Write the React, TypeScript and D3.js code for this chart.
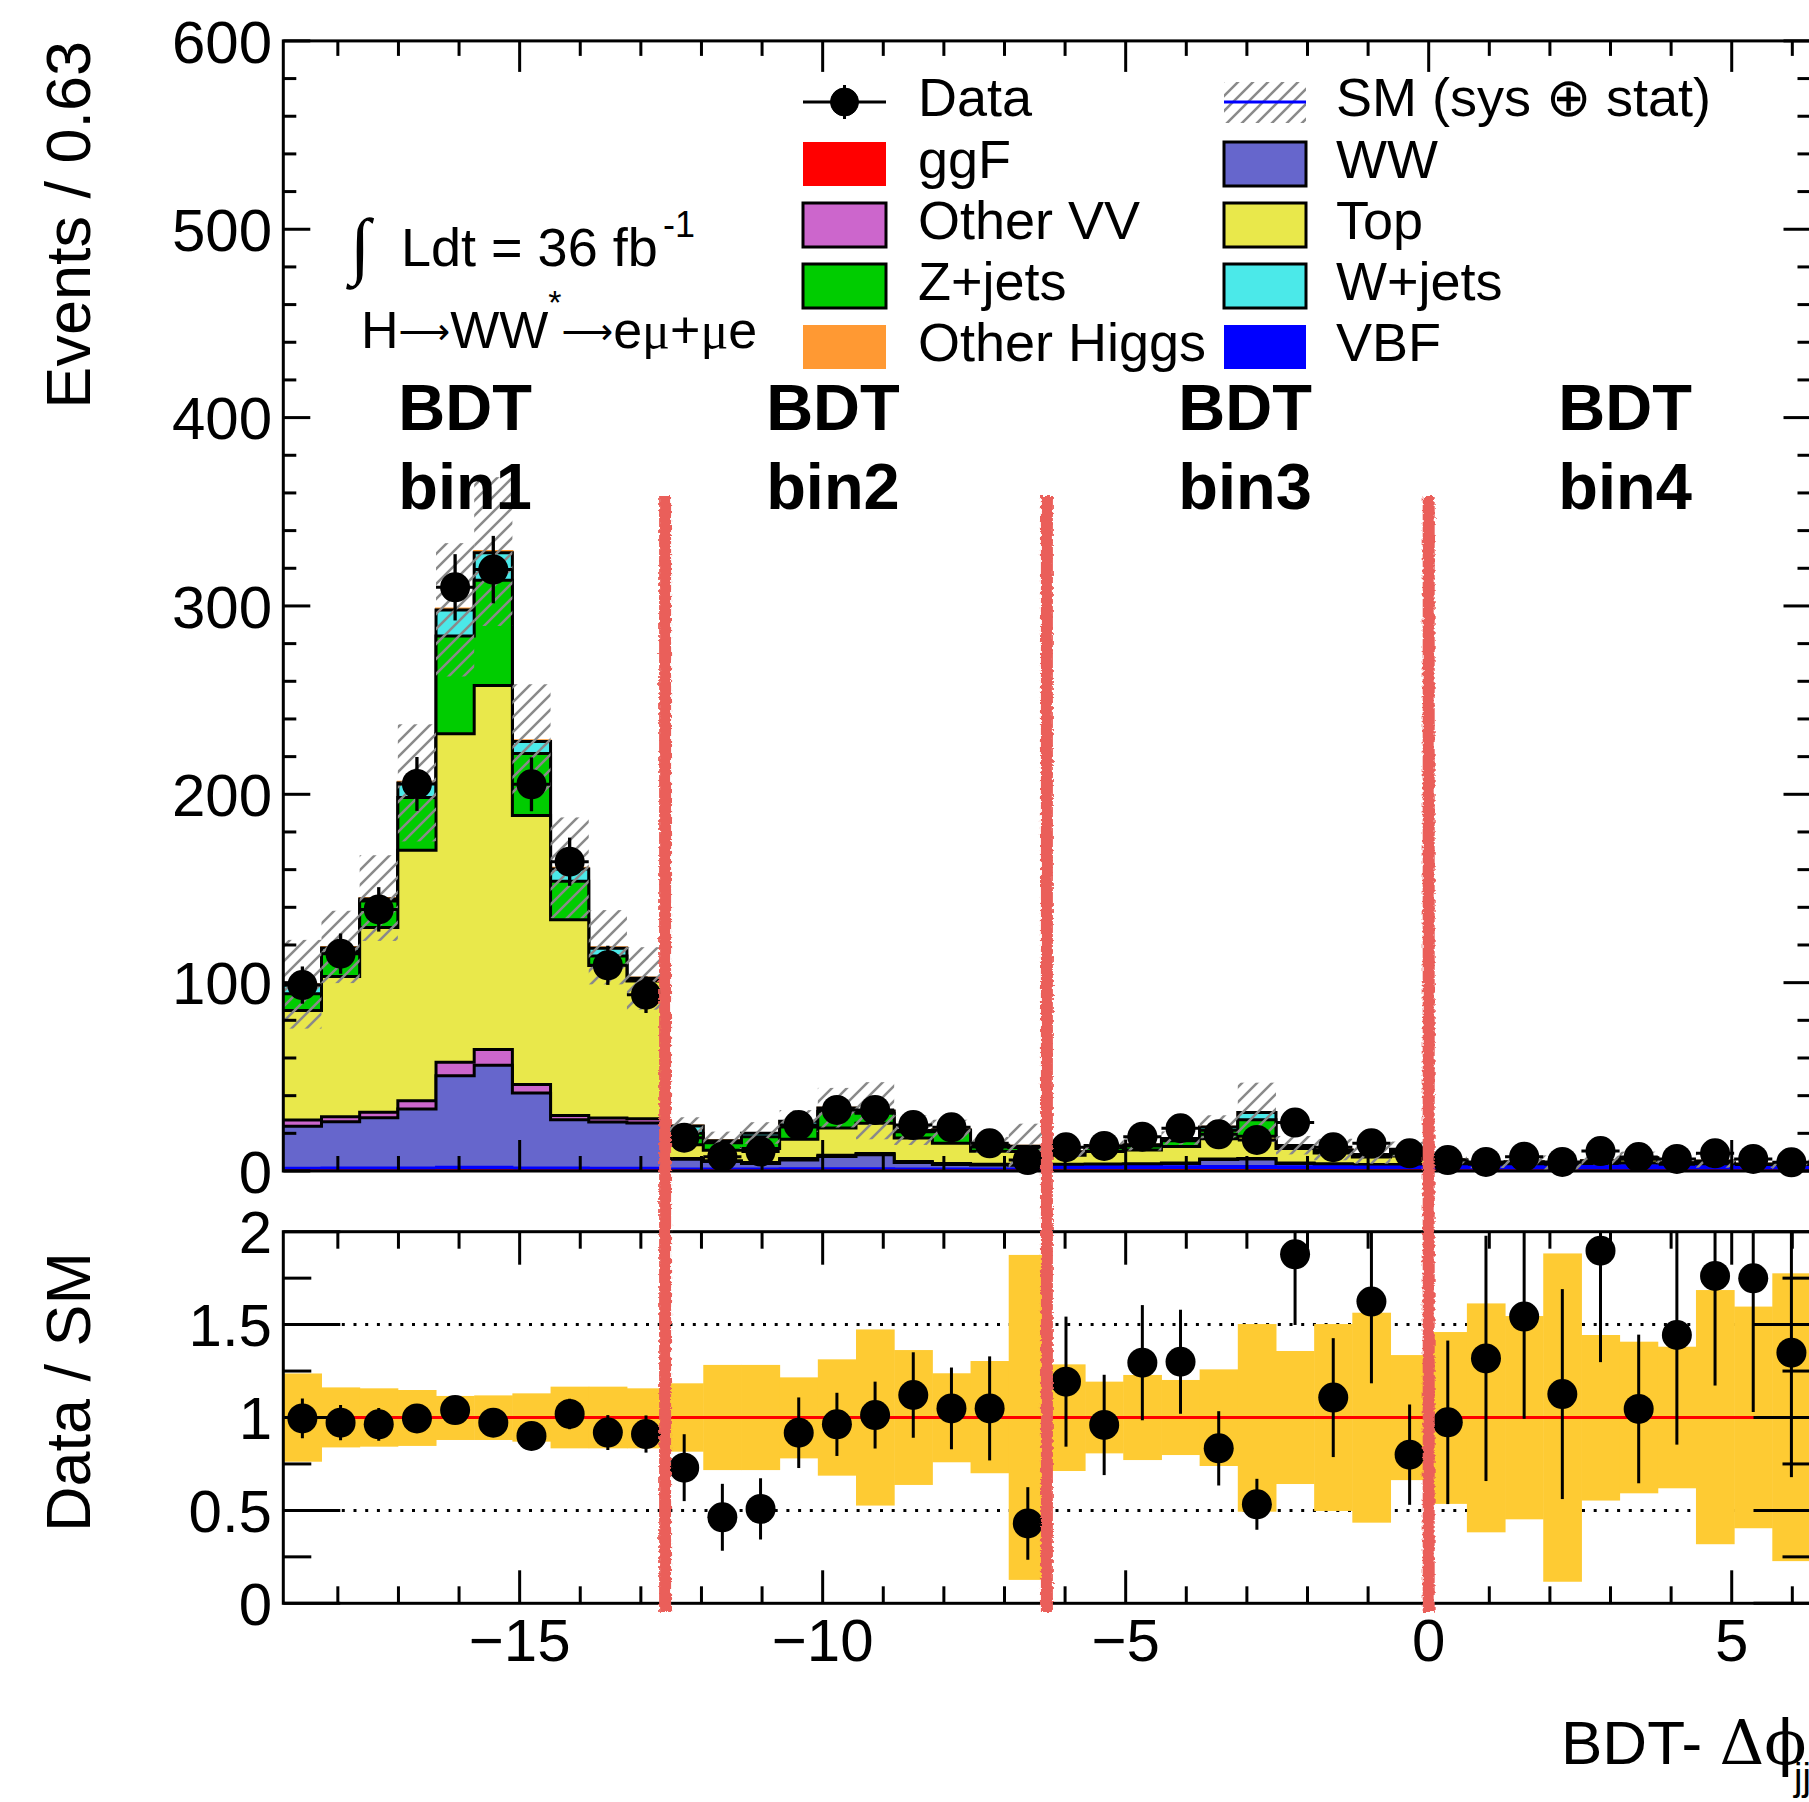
import React from "react";
import * as d3 from "d3";

// ---------------- binning ----------------
const X_MIN = -18.9;
const X_MAX = 6.3;
const BIN_WIDTH = 0.63;

// ---------------- stacked components (events per bin, 40 bins) ----------------
const ggF = [0.3, 0.3, 0.3, 0.3, 0.4, 0.4, 0.3, 0.3, 0.3, 0.3,
  0.3, 0.3, 0.3, 0.3, 0.3, 0.3, 0.3, 0.3, 0.3, 0.3,
  0.4, 0.4, 0.4, 0.5, 0.5, 0.5, 0.4, 0.4, 0.4, 0.4,
  0.3, 0.3, 0.3, 0.3, 0.3, 0.3, 0.3, 0.3, 0.3, 0.3];
const vbf = [1.4, 1.5, 1.5, 1.6, 1.8, 1.8, 1.6, 1.5, 1.4, 1.4,
  1.0, 1.0, 1.0, 1.1, 1.1, 1.1, 1.0, 1.0, 1.0, 1.0,
  1.9, 2.0, 2.1, 2.0, 2.1, 2.2, 2.1, 2.1, 2.0, 2.0,
  2.2, 2.0, 2.2, 2.0, 2.4, 2.6, 2.0, 2.2, 1.8, 1.8];
const ww = [22.1, 24.3, 26.5, 31.0, 48.4, 54.0, 39.5, 25.4, 24.3, 23.8,
  4.9, 3.7, 2.7, 4.5, 6.3, 7.2, 3.2, 2.2, 1.9, 1.7,
  1.0, 1.0, 1.0, 1.5, 3.5, 3.7, 1.5, 1.0, 0.8, 0.8,
  1.0, 0.5, 0.8, 0.5, 0.8, 1.2, 0.7, 0.9, 0.5, 0.5];
const otherVV = [3.3, 2.7, 2.9, 4.4, 7.2, 8.3, 4.5, 2.3, 2.2, 2.3,
  0.5, 0.5, 0.5, 0.7, 0.7, 0.7, 0.5, 0.5, 0.4, 0.4,
  0.3, 0.3, 0.3, 0.3, 0.3, 0.3, 0.3, 0.3, 0.3, 0.3,
  0.1, 0.1, 0.1, 0.1, 0.1, 0.1, 0.1, 0.1, 0.1, 0.1];
const topQuark = [58.1, 74.4, 98.1, 133.0, 174.3, 193.3, 142.8, 103.9, 80.9, 73.1,
  7.3, 5.5, 7.5, 10.3, 14.4, 16.1, 12.5, 10.7, 6.9, 6.9,
  4.7, 6.7, 7.4, 8.7, 10.7, 11.7, 7.7, 5.7, 3.9, 4.4,
  1.5, 0.5, 1.0, 0.7, 1.3, 2.0, 0.8, 1.2, 0.6, 0.6];
const zJets = [8.9, 13.3, 14.1, 28.0, 51.9, 55.8, 33.0, 20.5, 5.1, 0.8,
  6.0, 4.0, 6.2, 6.4, 8.8, 5.2, 3.3, 6.3, 2.3, 2.2,
  1.1, 2.0, 2.1, 3.0, 4.5, 8.8, 1.2, 1.3, 1.0, 2.5,
  0.5, 0.2, 0.3, 0.2, 0.3, 0.6, 0.3, 0.4, 0.2, 0.2];
const wJets = [4.7, 1.9, 1.0, 7.7, 13.8, 14.7, 6.3, 6.5, 4.1, 0.6,
  3.9, 1.1, 1.8, 3.1, 1.8, 1.2, 0.7, 0.8, 0.9, 0.7,
  0.8, 1.2, 0.6, 1.3, 1.7, 3.8, 0.3, 0.4, 0.4, 1.1,
  0.4, 0.2, 0.2, 0.4, 0.3, 0.3, 0.2, 0.2, 0.2, 0.1];
const otherHiggs = [0.4, 0.5, 0.5, 0.6, 0.9, 0.9, 0.7, 0.6, 0.5, 0.4,
  0.2, 0.2, 0.2, 0.2, 0.2, 0.2, 0.2, 0.2, 0.2, 0.2,
  0.2, 0.2, 0.2, 0.2, 0.2, 0.2, 0.2, 0.2, 0.2, 0.2,
  0.2, 0.2, 0.2, 0.2, 0.2, 0.2, 0.2, 0.2, 0.2, 0.2];

// ---------------- data ----------------
const dataCounts = [98.7, 115.4, 138.9, 205.5, 309.9, 319.3, 205.3, 164.2, 109.2, 93.6,
  17.7, 7.6, 10.3, 24.4, 32.4, 32.4, 24.4, 23.2, 14.7, 5.8,
  12.6, 13.3, 18.2, 22.7, 19.5, 16.5, 25.7, 12.6, 14.7, 9.4,
  5.8, 4.8, 7.6, 4.8, 10.6, 7.4, 6.4, 9.4, 6.4, 4.6];
const dataErr = [9.9, 10.7, 11.8, 14.3, 17.6, 17.9, 14.3, 12.8, 10.4, 9.7,
  4.2, 2.8, 3.2, 4.9, 5.7, 5.7, 4.9, 4.8, 3.8, 2.4,
  3.5, 3.6, 4.3, 4.8, 4.4, 4.1, 5.1, 3.5, 3.8, 3.1,
  2.4, 2.2, 2.8, 2.2, 3.3, 2.7, 2.5, 3.1, 2.5, 2.1];

// ---------------- ratio panel ----------------
const ratioValues = [0.995, 0.972, 0.963, 0.995, 1.040, 0.972, 0.901, 1.019, 0.919, 0.911,
  0.73, 0.463, 0.508, 0.918, 0.963, 1.013, 1.121, 1.049, 1.049, 0.43,
  1.193, 0.96, 1.295, 1.30, 0.834, 0.533, 1.878, 1.107, 1.624, 0.80,
  0.974, 1.318, 1.543, 1.126, 1.898, 1.046, 1.444, 1.762, 1.749, 1.349];
const ratioErr = [0.107, 0.095, 0.088, 0.075, 0.062, 0.06, 0.072, 0.082, 0.094, 0.1,
  0.18, 0.18, 0.165, 0.19, 0.17, 0.18, 0.23, 0.22, 0.28, 0.195,
  0.35, 0.27, 0.31, 0.28, 0.2, 0.137, 0.38, 0.32, 0.44, 0.27,
  0.44, 0.66, 0.55, 0.565, 0.6, 0.4, 0.59, 0.59, 0.72, 0.67];
const bandHigh = [1.237, 1.162, 1.157, 1.148, 1.116, 1.119, 1.13, 1.166, 1.166, 1.157,
  1.184, 1.283, 1.283, 1.216, 1.313, 1.474, 1.363, 1.238, 1.304, 1.875,
  1.286, 1.193, 1.229, 1.202, 1.259, 1.503, 1.358, 1.503, 1.564, 1.336,
  1.46, 1.614, 1.546, 1.883, 1.444, 1.408, 1.381, 1.686, 1.597, 1.776];
const bandLow = [0.762, 0.839, 0.843, 0.847, 0.879, 0.879, 0.870, 0.834, 0.834, 0.834,
  0.816, 0.717, 0.717, 0.780, 0.687, 0.526, 0.637, 0.759, 0.70, 0.126,
  0.712, 0.807, 0.771, 0.798, 0.739, 0.493, 0.642, 0.497, 0.434, 0.663,
  0.535, 0.382, 0.452, 0.116, 0.553, 0.592, 0.619, 0.318, 0.404, 0.227];

// ---------------- axes / labels ----------------
const yTicksMain = [0, 100, 200, 300, 400, 500, 600];
const yTicksRatio = [0, 0.5, 1, 1.5, 2];
const yMinorRatio = [0.25, 0.75, 1.25, 1.75];
const xTickValues = [-15, -10, -5, 0, 5];
const bdtBoundaries = [-12.6, -6.3, 0];
const bdtBinLabels = ["bin1", "bin2", "bin3", "bin4"];
const legendLeft = ["Data", "ggF", "Other VV", "Z+jets", "Other Higgs"];
const legendRight = ["SM (sys \u2295 stat)", "WW", "Top", "W+jets", "VBF"];

// ---------------- layout ----------------
const W = 1809;
const H = 1802;
const L = 283.3;
const R = 1810.5;
const MAIN_TOP = 40.9;
const MAIN_BOT = 1171;
const RAT_TOP = 1231.7;
const RAT_BOT = 1603.3;
const BDT_LABEL_X = [-15.9, -9.83, -3.03, 3.24];
const FONT = "'Liberation Sans', Arial, Helvetica, sans-serif";
const ARROW_FONT = "'DejaVu Sans', sans-serif";

const COLORS: Record<string, string> = {
  ggF: "#ff0000",
  VBF: "#0000ff",
  WW: "#6666cc",
  "Other VV": "#cc66cc",
  Top: "#e9e84b",
  "Z+jets": "#00cc00",
  "W+jets": "#4be9e9",
  "Other Higgs": "#ff9933",
};
const BOXED = new Set(["WW", "Other VV", "Top", "Z+jets", "W+jets"]);

export default function App() {
  const n = dataCounts.length;
  const edges = d3.range(n + 1).map((i) => X_MIN + i * BIN_WIDTH);
  const centers = d3.range(n).map((i) => X_MIN + (i + 0.5) * BIN_WIDTH);

  const x = d3.scaleLinear().domain([X_MIN, X_MAX]).range([L, R]);
  const y = d3.scaleLinear().domain([0, 600]).range([MAIN_BOT, MAIN_TOP]);
  const yr = d3.scaleLinear().domain([0, 2]).range([RAT_BOT, RAT_TOP]);

  const stackDefs = [
    { key: "ggF", values: ggF },
    { key: "VBF", values: vbf },
    { key: "WW", values: ww },
    { key: "Other VV", values: otherVV },
    { key: "Top", values: topQuark },
    { key: "Z+jets", values: zJets },
    { key: "W+jets", values: wJets },
    { key: "Other Higgs", values: otherHiggs },
  ];
  const cumulative: number[][] = [];
  let running = new Array(n).fill(0);
  stackDefs.forEach((s) => {
    running = running.map((v, i) => v + s.values[i]);
    cumulative.push(running);
  });
  const total = cumulative[cumulative.length - 1];

  const stepPts = (vals: number[]) =>
    vals.flatMap((v, i) => [
      [edges[i], v],
      [edges[i + 1], v],
    ]);
  const line = d3
    .line<number[]>()
    .x((d) => x(d[0]))
    .y((d) => y(d[1]));
  const area = d3
    .area<number[]>()
    .x((d) => x(d[0]))
    .y0(y(0))
    .y1((d) => y(d[1]));

  const mainMinorX = d3.range(-18, 7, 1).filter((v) => v % 5 !== 0);
  const mainMinorY = d3.range(0, 601, 20).filter((v) => v % 100 !== 0);

  const fmtX = (v: number) => (v < 0 ? "\u2212" + Math.abs(v) : String(v));

  const legendRowY = [102, 164, 225, 286, 347];

  return (
    <div>
      <style>{"body{margin:0;background:#fff}"}</style>
      <svg width={W} height={H} style={{ display: "block", fontFamily: FONT }}>
        <defs>
          <pattern id="hatch" patternUnits="userSpaceOnUse" width="15" height="15">
            <path
              d="M0,15 L15,0 M-3.75,3.75 L3.75,-3.75 M11.25,18.75 L18.75,11.25"
              stroke="#8a8a8a"
              strokeWidth="2.5"
            />
          </pattern>
          <clipPath id="mainClip">
            <rect x={L} y={MAIN_TOP} width={R - L} height={MAIN_BOT - MAIN_TOP} />
          </clipPath>
          <clipPath id="ratClip">
            <rect x={L} y={RAT_TOP} width={R - L} height={RAT_BOT - RAT_TOP} />
          </clipPath>
          <filter id="crayon" filterUnits="userSpaceOnUse" x="0" y="0" width={W} height={H}>
            <feTurbulence type="fractalNoise" baseFrequency="0.3" numOctaves="2" seed="7" result="n" />
            <feDisplacementMap in="SourceGraphic" in2="n" scale="5" xChannelSelector="R" yChannelSelector="G" />
          </filter>
        </defs>
        <rect width={W} height={H} fill="#fff" />

        {/* ---------- main panel stack ---------- */}
        <g clipPath="url(#mainClip)">
          {stackDefs
            .map((s, k) => ({ ...s, cum: cumulative[k] }))
            .reverse()
            .map((s) => {
              const pts = stepPts(s.cum);
              const boxed = BOXED.has(s.key);
              return (
                <g key={s.key}>
                  <path d={area(pts) || ""} fill={COLORS[s.key]} />
                  <path
                    d={line(pts) || ""}
                    fill="none"
                    stroke={boxed ? "#000" : COLORS[s.key]}
                    strokeWidth={boxed ? 3 : 2}
                  />
                </g>
              );
            })}
          {/* uncertainty hatch */}
          {total.map((t, i) => (
            <rect
              key={"h" + i}
              x={x(edges[i])}
              width={x(edges[i + 1]) - x(edges[i])}
              y={y(t * bandHigh[i])}
              height={y(t * bandLow[i]) - y(t * bandHigh[i])}
              fill="url(#hatch)"
            />
          ))}
        </g>

        {/* main data */}
        <g>
          {dataCounts.map((v, i) => (
            <g key={"d" + i}>
              <line x1={x(edges[i])} x2={x(edges[i + 1])} y1={y(v)} y2={y(v)} stroke="#000" strokeWidth={3} />
              <line x1={x(centers[i])} x2={x(centers[i])} y1={y(v - dataErr[i])} y2={y(v + dataErr[i])} stroke="#000" strokeWidth={3.3} />
              <circle cx={x(centers[i])} cy={y(v)} r={15} fill="#000" />
            </g>
          ))}
        </g>

        {/* main frame + ticks */}
        <g stroke="#000" strokeWidth={3} fill="none">
          <rect x={L} y={MAIN_TOP} width={R - L} height={MAIN_BOT - MAIN_TOP} />
          {yTicksMain.map((v) => (
            <g key={"my" + v}>
              <line x1={L} x2={L + 27} y1={y(v)} y2={y(v)} />
              <line x1={R - 27} x2={R} y1={y(v)} y2={y(v)} />
            </g>
          ))}
          {mainMinorY.map((v) => (
            <g key={"mmy" + v}>
              <line x1={L} x2={L + 13} y1={y(v)} y2={y(v)} />
              <line x1={R - 13} x2={R} y1={y(v)} y2={y(v)} />
            </g>
          ))}
          {xTickValues.map((v) => (
            <g key={"mx" + v}>
              <line x1={x(v)} x2={x(v)} y1={MAIN_BOT} y2={MAIN_BOT - 31} />
              <line x1={x(v)} x2={x(v)} y1={MAIN_TOP} y2={MAIN_TOP + 31} />
            </g>
          ))}
          {mainMinorX.map((v) => (
            <g key={"mmx" + v}>
              <line x1={x(v)} x2={x(v)} y1={MAIN_BOT} y2={MAIN_BOT - 15} />
              <line x1={x(v)} x2={x(v)} y1={MAIN_TOP} y2={MAIN_TOP + 15} />
            </g>
          ))}
        </g>
        {yTicksMain.map((v) => (
          <text key={"myl" + v} x={272} y={y(v)} dy="0.36em" textAnchor="end" fontSize={60}>
            {v}
          </text>
        ))}

        {/* ---------- ratio panel ---------- */}
        <g clipPath="url(#ratClip)">
          {[0.5, 1.5].map((v) => (
            <line key={"dot" + v} x1={L} x2={R} y1={yr(v)} y2={yr(v)} stroke="#000" strokeWidth={3} strokeDasharray="3 8.7" />
          ))}
          {bandHigh.map((hi, i) => (
            <rect
              key={"b" + i}
              x={x(edges[i])}
              width={x(edges[i + 1]) - x(edges[i]) + 0.5}
              y={yr(hi)}
              height={yr(bandLow[i]) - yr(hi)}
              fill="#fecb33"
            />
          ))}
          <line x1={L} x2={R} y1={yr(1)} y2={yr(1)} stroke="#ff0000" strokeWidth={3} />
          {ratioValues.map((v, i) => (
            <line
              key={"re" + i}
              x1={x(centers[i])}
              x2={x(centers[i])}
              y1={yr(v - ratioErr[i])}
              y2={yr(v + ratioErr[i])}
              stroke="#000"
              strokeWidth={3}
            />
          ))}
        </g>
        {ratioValues.map((v, i) => (
          <circle key={"rp" + i} cx={x(centers[i])} cy={yr(v)} r={15} fill="#000" />
        ))}
        <g stroke="#000" strokeWidth={3} fill="none">
          <rect x={L} y={RAT_TOP} width={R - L} height={RAT_BOT - RAT_TOP} />
          {yTicksRatio.map((v) => (
            <g key={"ry" + v}>
              <line x1={L} x2={L + 57} y1={yr(v)} y2={yr(v)} />
              <line x1={R - 57} x2={R} y1={yr(v)} y2={yr(v)} />
            </g>
          ))}
          {yMinorRatio.map((v) => (
            <g key={"rmy" + v}>
              <line x1={L} x2={L + 28} y1={yr(v)} y2={yr(v)} />
              <line x1={R - 28} x2={R} y1={yr(v)} y2={yr(v)} />
            </g>
          ))}
          {xTickValues.map((v) => (
            <g key={"rx" + v}>
              <line x1={x(v)} x2={x(v)} y1={RAT_BOT} y2={RAT_BOT - 33} />
              <line x1={x(v)} x2={x(v)} y1={RAT_TOP} y2={RAT_TOP + 33} />
            </g>
          ))}
          {mainMinorX.map((v) => (
            <g key={"rmx" + v}>
              <line x1={x(v)} x2={x(v)} y1={RAT_BOT} y2={RAT_BOT - 17} />
              <line x1={x(v)} x2={x(v)} y1={RAT_TOP} y2={RAT_TOP + 17} />
            </g>
          ))}
        </g>
        {yTicksRatio.map((v) => (
          <text key={"ryl" + v} x={272} y={yr(v)} dy="0.36em" textAnchor="end" fontSize={60}>
            {String(v)}
          </text>
        ))}
        {xTickValues.map((v) => (
          <text key={"rxl" + v} x={x(v)} y={1661} textAnchor="middle" fontSize={60}>
            {fmtX(v)}
          </text>
        ))}

        {/* axis titles */}
        <text transform={`translate(90,${MAIN_TOP}) rotate(-90)`} textAnchor="end" fontSize={63}>
          Events / 0.63
        </text>
        <text transform={`translate(90,1252) rotate(-90)`} textAnchor="end" fontSize={63}>
          Data / SM
        </text>
        <text x={1561} y={1764} fontSize={62}>
          BDT-{" "}
          <tspan fontFamily="'DejaVu Serif', 'Liberation Serif', serif">{"\u0394\u03d5"}</tspan>
        </text>
        <text x={1794} y={1790} fontSize={38}>
          jj
        </text>

        {/* annotations */}
        <text x={350} y={270} fontSize={74} fontFamily="'Liberation Serif', serif">
          {"\u222b"}
        </text>
        <text x={401} y={266} fontSize={54}>
          Ldt = 36 fb
        </text>
        <text x={663} y={237} fontSize={36}>
          -1
        </text>
        <text x={361} y={348} fontSize={52}>
          H
          <tspan fontFamily={ARROW_FONT} fontSize={36} dy={-4}>{"\u27f6"}</tspan>
          <tspan dy={4}>WW</tspan>
          <tspan dy={-34} fontSize={34}>*</tspan>
          <tspan dy={30} fontFamily={ARROW_FONT} fontSize={36}>{"\u27f6"}</tspan>
          <tspan dy={4}>e</tspan>
          <tspan fontFamily="'Liberation Serif', serif">{"\u03bc"}</tspan>+
          <tspan fontFamily="'Liberation Serif', serif">{"\u03bc"}</tspan>e
        </text>

        {bdtBinLabels.map((lab, i) => (
          <g key={lab} fontWeight="bold" fontSize={65} textAnchor="middle">
            <text x={x(BDT_LABEL_X[i])} y={430}>BDT</text>
            <text x={x(BDT_LABEL_X[i])} y={509}>{lab}</text>
          </g>
        ))}

        {/* legend */}
        {legendLeft.map((lab, i) => {
          const cy = legendRowY[i];
          return (
            <g key={"ll" + lab}>
              {lab === "Data" ? (
                <g stroke="#000">
                  <line x1={803} x2={886} y1={cy} y2={cy} strokeWidth={3} />
                  <line x1={844.5} x2={844.5} y1={cy - 17} y2={cy + 17} strokeWidth={3} />
                  <circle cx={844.5} cy={cy} r={14} fill="#000" />
                </g>
              ) : (
                <rect
                  x={803}
                  y={cy - 22}
                  width={83}
                  height={44}
                  fill={COLORS[lab]}
                  stroke={BOXED.has(lab) ? "#000" : "none"}
                  strokeWidth={3}
                />
              )}
              <text x={918} y={cy + 14} fontSize={54}>
                {lab}
              </text>
            </g>
          );
        })}
        {legendRight.map((lab, i) => {
          const cy = legendRowY[i];
          const isSM = i === 0;
          return (
            <g key={"lr" + lab}>
              {isSM ? (
                <g>
                  <rect x={1224} y={cy - 20} width={82} height={41} fill="url(#hatch)" />
                  <line x1={1224} x2={1306} y1={cy} y2={cy} stroke="#0000ff" strokeWidth={3} />
                </g>
              ) : (
                <rect
                  x={1224}
                  y={cy - 22}
                  width={82}
                  height={44}
                  fill={COLORS[lab]}
                  stroke={BOXED.has(lab) ? "#000" : "none"}
                  strokeWidth={3}
                />
              )}
              <text x={1336} y={cy + 14} fontSize={54}>
                {lab}
              </text>
            </g>
          );
        })}

        {/* BDT bin boundaries (hand-drawn red lines) */}
        {bdtBoundaries.map((b) => (
          <line
            key={"bd" + b}
            x1={x(b)}
            x2={x(b)}
            y1={496}
            y2={1612}
            stroke="#ea5f5a"
            strokeWidth={12}
            filter="url(#crayon)"
          />
        ))}
      </svg>
    </div>
  );
}
